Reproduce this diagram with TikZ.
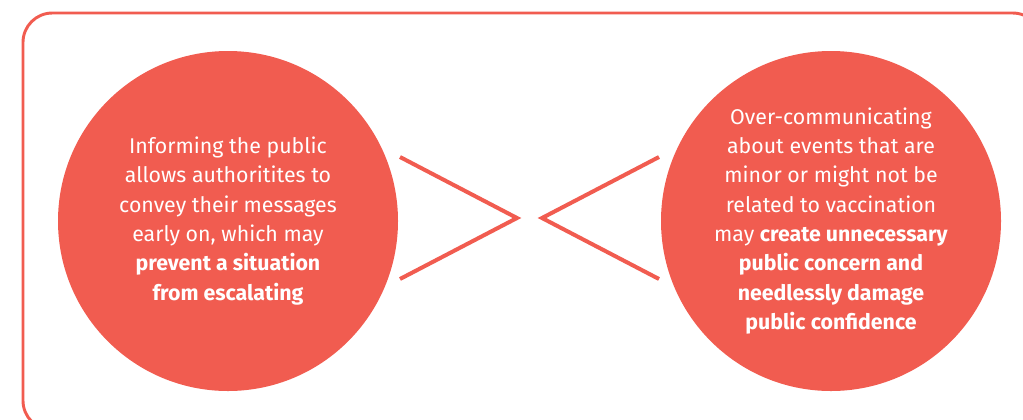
\documentclass[tikz,border=0pt]{standalone}
\usepackage{fontspec}
\setmainfont{Fira Sans}
\definecolor{coral}{HTML}{F15C50}
\tikzset{
  bubble/.style={circle, fill=coral, minimum size=255pt, inner sep=0pt,
    text=white, align=center, font=\fontsize{16}{22}\selectfont},
  chevron/.style={draw=coral, line width=3pt}
}
\begin{document}
\begin{tikzpicture}[x=0.75pt, y=-0.75pt]

	    \useasboundingbox (0,0) rectangle (1023,419);

	    % outer frame, runs past the right and bottom edge
	    \draw [coral, line width=2.2pt, rounded corners=22pt] (23,13) rectangle (1042,430);

	    \node [bubble] (inform) at (228,221) {Informing the public\\ allows authoritites to\\ convey their messages\\ early on, which may\\ \textbf{prevent a situation}\\ \textbf{from escalating}};
	    \node [bubble] (overcomm) at (831,221) {Over-communicating\\ about events that are\\ minor or might not be\\ related to vaccination\\ may \textbf{create unnecessary}\\ \textbf{public concern and}\\ \textbf{needlessly damage}\\ \textbf{public confidence}};

	    % the two opposing chevrons
	    \coordinate (ltip) at (517,218);
	    \coordinate (rtip) at (542,218);
	    \draw [chevron] (400,157) -- (ltip) -- (400,279);
	    \draw [chevron] (659,157) -- (rtip) -- (659,279);

\end{tikzpicture}
\end{document}
